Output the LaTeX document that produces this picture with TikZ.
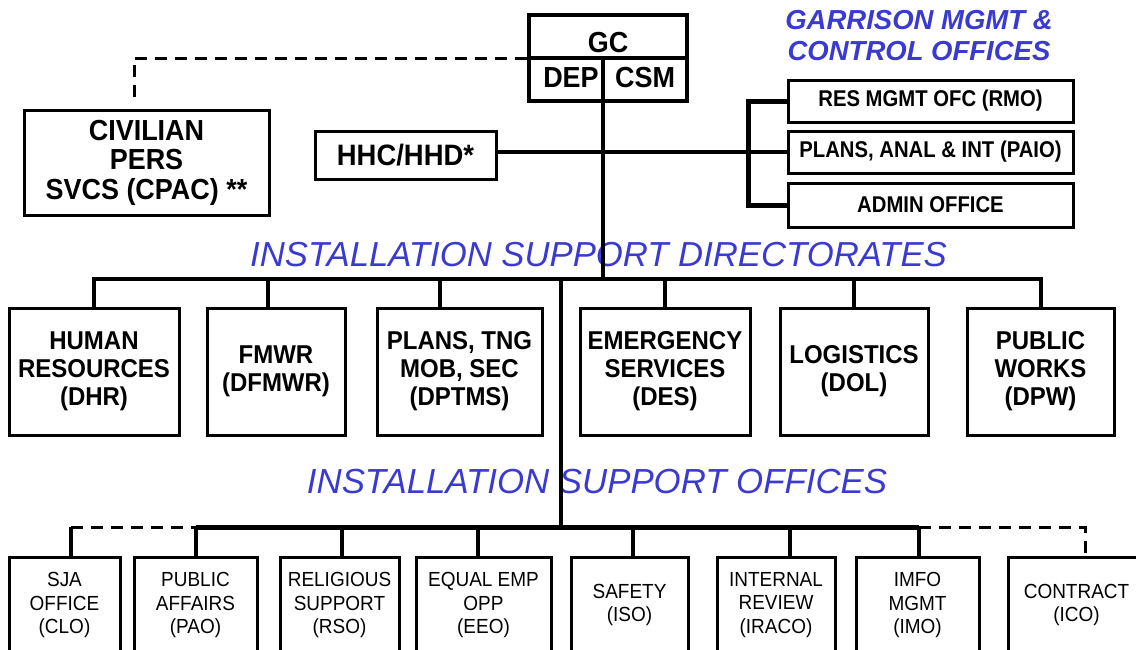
\documentclass[tikz,border=0pt]{standalone}
\usepackage{fontspec}
\setmainfont{Liberation Sans}
\newfontfamily\boxfont[FakeStretch=0.93]{Liberation Sans}
\newfontfamily\ctlfont[FakeStretch=0.89]{Liberation Sans}
\usetikzlibrary{calc}
\definecolor{hdrblue}{RGB}{58,58,208}
\begin{document}
\begin{tikzpicture}[x=1pt,y=-1pt,
  dirbox/.style={draw,line width=3pt,inner sep=0pt,align=center,minimum height=127pt,
     font=\boxfont\bfseries\fontsize{25.8}{28}\selectfont},
  offbox/.style={draw,line width=3pt,inner sep=0pt,align=center,minimum height=96pt,
     font=\boxfont\fontsize{20.4}{23.5}\selectfont},
  ctlbox/.style={draw,line width=3pt,inner sep=0pt,align=center,minimum width=285pt,
     font=\ctlfont\bfseries\fontsize{22.8}{24}\selectfont},
  topbox/.style={draw,line width=3pt,inner sep=0pt,align=center,
     font=\boxfont\bfseries\fontsize{29.5}{30}\selectfont},
  gctext/.style={inner sep=0pt,font=\boxfont\bfseries\fontsize{29}{30}\selectfont},
  hdr/.style={inner sep=0pt,anchor=base,text=hdrblue,font=\itshape\fontsize{34}{40}\selectfont},
  conn/.style={line width=4pt},
  bus/.style={line width=5pt},
  thinconn/.style={line width=3.2pt},
  dashline/.style={line width=3pt,dash pattern=on 12pt off 8pt}]
\useasboundingbox (0,0) rectangle (1136,649);
\clip (0,0) rectangle (1136,649);

% headings
\node[hdr,font=\itshape\fontsize{34.7}{40}\selectfont] (hdrdir) at (598.5,266) {INSTALLATION SUPPORT DIRECTORATES};
\node[hdr,font=\itshape\fontsize{34.8}{40}\selectfont] (hdroff) at (597,493) {INSTALLATION SUPPORT OFFICES};
\node[inner sep=0pt,align=center,text=hdrblue,font=\bfseries\itshape\fontsize{27.5}{31}\selectfont] (hdrgar) at (919,36) {GARRISON MGMT \&\\CONTROL OFFICES};

% GC box
\node[draw,line width=3.5pt,inner sep=0pt,minimum width=158pt,minimum height=86pt] (gc) at (608,58) {};
\node[gctext] (gct) at (608,43) {GC};
\node[gctext] (dep) at (571,78) {DEP};
\node[gctext] (csm) at (645,78) {CSM};
\coordinate (gcsplit) at (603,58);

% CPAC and HHC
\node[topbox,minimum width=245pt,minimum height=105pt,font=\boxfont\bfseries\fontsize{29}{29.5}\selectfont] (cpac) at (146.5,162.5) {CIVILIAN\\PERS\\SVCS (CPAC) **};
\node[topbox,minimum width=181pt,minimum height=48pt] (hhc) at (405.5,155) {HHC/HHD*};

% control offices
\node[ctlbox,minimum height=42pt] (rmo) at (930.5,101) {RES MGMT OFC (RMO)};
\node[ctlbox,minimum height=42pt] (paio) at (930.5,152) {PLANS, ANAL \& INT (PAIO)};
\node[ctlbox,minimum height=44pt] (admin) at (930.5,205) {ADMIN OFFICE};

% directorates
\node[dirbox,minimum width=170pt] (hr) at (94,371.5) {HUMAN\\RESOURCES\\(DHR)};
\node[dirbox,minimum width=138pt] (fmwr) at (276,371.5) {FMWR\\(DFMWR)};
\node[dirbox,minimum width=165pt] (dptms) at (459.5,371.5) {PLANS, TNG\\MOB, SEC\\(DPTMS)};
\node[dirbox,minimum width=170pt] (des) at (665,371.5) {EMERGENCY\\SERVICES\\(DES)};
\node[dirbox,minimum width=148pt] (dol) at (854,371.5) {LOGISTICS\\(DOL)};
\node[dirbox,minimum width=147pt] (dpw) at (1040.5,371.5) {PUBLIC\\WORKS\\(DPW)};

% offices
\node[offbox,minimum width=111pt] (sja) at (64.5,605) {SJA\\OFFICE\\(CLO)};
\node[offbox,minimum width=123pt] (pao) at (195.5,605) {PUBLIC\\AFFAIRS\\(PAO)};
\node[offbox,minimum width=119pt] (rso) at (339.5,605) {RELIGIOUS\\SUPPORT\\(RSO)};
\node[offbox,minimum width=135pt] (eeo) at (483.5,605) {EQUAL EMP\\OPP\\(EEO)};
\node[offbox,minimum width=117pt] (iso) at (629.5,605) {SAFETY\\(ISO)};
\node[offbox,minimum width=118pt] (iraco) at (776,605) {INTERNAL\\REVIEW\\(IRACO)};
\node[offbox,minimum width=123pt] (imo) at (917.5,605) {IMFO\\MGMT\\(IMO)};
\node[offbox,minimum width=137pt] (ico) at (1076.5,605) {CONTRACT\\(ICO)};

% bus coordinates
\coordinate (dbus) at (0,279);
\coordinate (obus) at (0,527);
\coordinate (overt) at (561,279);

% GC internals and main trunk
\draw[line width=3.2pt] (gc.west |- gcsplit) -- (gc.east |- gcsplit);
\draw[thinconn] (gcsplit) -- (gcsplit |- dbus);

% dashed link to CPAC
\coordinate (cpacdash) at ($(cpac.north)+(-12.5,-10)$);
\draw[dashline] (gc.west |- gcsplit) -| (cpacdash);

% HHC to PAIO and bracket
\draw[line width=3.5pt] (hhc.east |- paio.west) -- (paio.west);
\draw[bus] (rmo.west) -- ++(-38,0) |- (admin.west);

% directorate bus and drops
\draw[conn] (hr.north) -- (hr.north |- dbus) -- (dpw.north |- dbus) -- (dpw.north);
\draw[conn] ($(fmwr.north)+(-8,0)$) -- ($(fmwr.north |- dbus)+(-8,0)$);
\draw[conn] ($(dptms.north)+(-19.5,0)$) -- ($(dptms.north |- dbus)+(-19.5,0)$);
\draw[conn] (des.north) -- (des.north |- dbus);
\draw[conn] (dol.north) -- (dol.north |- dbus);

% offices trunk and bus
\draw[conn] (overt) -- (overt |- obus);
\draw[bus] (pao.north |- obus) -- ($(imo.north |- obus)+(1.5,0)$);
\draw[dashline] ($(sja.north |- obus)+(6.5,0)$) -- (pao.north |- obus);
\draw[dashline] ($(imo.north |- obus)+(1.5,0)$) -- ($(ico.north |- obus)+(8.5,0)$) -- ($(ico.north)+(8.5,0)$);
\draw[conn] ($(sja.north)+(6.5,0)$) -- ($(sja.north |- obus)+(6.5,0)$);
\draw[conn] (pao.north) -- (pao.north |- obus);
\draw[conn] ($(rso.north)+(2.5,0)$) -- ($(rso.north |- obus)+(2.5,0)$);
\draw[conn] ($(eeo.north)+(-5.5,0)$) -- ($(eeo.north |- obus)+(-5.5,0)$);
\draw[conn] ($(iso.north)+(3.5,0)$) -- ($(iso.north |- obus)+(3.5,0)$);
\draw[conn] ($(iraco.north)+(14,0)$) -- ($(iraco.north |- obus)+(14,0)$);
\draw[conn] ($(imo.north)+(1.5,0)$) -- ($(imo.north |- obus)+(1.5,0)$);
\end{tikzpicture}
\end{document}
